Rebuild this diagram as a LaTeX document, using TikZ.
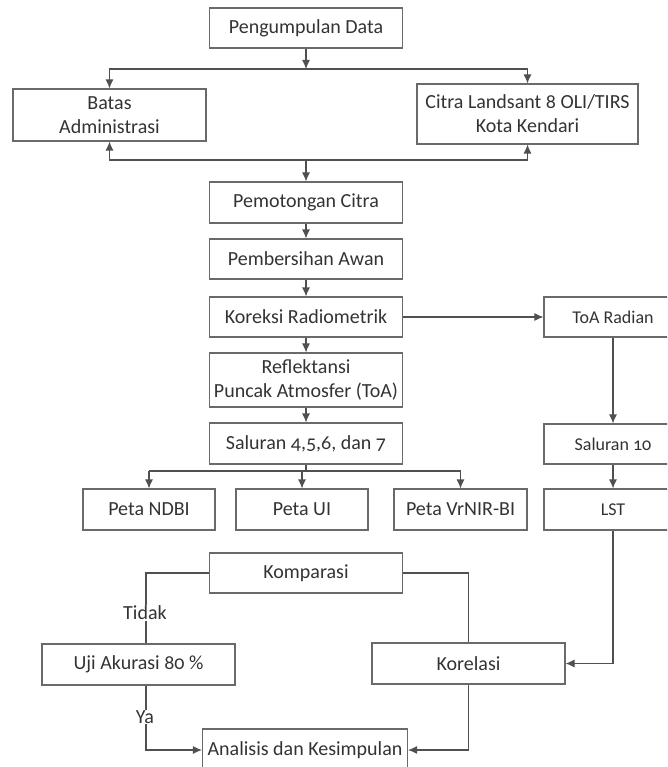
\documentclass[tikz,border=0pt]{standalone}
\usepackage{fontspec}
\setmainfont{Carlito}[Numbers=OldStyle]
\usepackage{xcolor}
\usetikzlibrary{arrows.meta}

\definecolor{boxgray}{HTML}{6A6A6A}
\definecolor{linegray}{HTML}{505050}
\definecolor{textgray}{HTML}{333333}

\begin{document}
\begin{tikzpicture}[x=1pt, y=-1pt, >={Latex[length=9pt,width=8pt]},
    box/.style={draw=boxgray, line width=1.1pt, text=textgray, align=center,
        inner sep=0pt, font=\fontsize{20}{24}\selectfont},
    sidebox/.style={box, font=\fontsize{18}{22}\selectfont},
    link/.style={draw=linegray, line width=1.1pt},
    lbl/.style={fill=white, text=textgray, inner sep=1pt, font=\fontsize{20}{24}\selectfont}]

    % Frame
    \useasboundingbox (0,0) rectangle (667,767);
    \clip (0,0) rectangle (667,767);

    % Input data
    \node[box, minimum width=193, minimum height=40] (data) at (306,28) {Pengumpulan Data};
    \node[box, minimum width=193, minimum height=52] (batas) at (109.5,115) {Batas\\Administrasi};
    \node[box, minimum width=221, minimum height=60] (citra) at (527.5,114) {Citra Landsant 8 OLI/TIRS\\Kota Kendari};

    \coordinate (split) at (306,69);
    \coordinate (merge) at (306,160);

    \draw[link, ->] (data) -- (split);
    \draw[link, ->] (split) -| (batas.north);
    \draw[link, ->] (split) -| (citra.north);
    \draw[link, ->] (merge) -| (batas.south);
    \draw[link, ->] (merge) -| (citra.south);

    % Pre-processing
    \node[box, minimum width=193, minimum height=41] (potong) at (306,202.5) {Pemotongan Citra};
    \node[box, minimum width=193, minimum height=40] (awan) at (306,259) {Pembersihan Awan};
    \node[box, minimum width=193, minimum height=40] (koreksi) at (306,317) {Koreksi Radiometrik};
    \node[box, minimum width=193, minimum height=54] (reflek) at (306,380) {Reflektansi\\Puncak Atmosfer (ToA)};
    \node[box, minimum width=193, minimum height=41] (saluran) at (306,443.5) {Saluran 4,5,6, dan 7};

    \draw[link, ->] (merge) -- (potong);
    \draw[link, ->] (potong) -- (awan);
    \draw[link, ->] (awan) -- (koreksi);
    \draw[link, ->] (koreksi) -- (reflek);
    \draw[link, ->] (reflek) -- (saluran);

    % Thermal branch
    \node[sidebox, minimum width=138, minimum height=40] (toarad) at (613,317) {ToA Radian};
    \node[sidebox, minimum width=138, minimum height=40] (sal10) at (613,444) {Saluran 10};
    \node[sidebox, minimum width=138, minimum height=41] (lst) at (613,509.5) {LST};

    \draw[link, ->] (koreksi) -- (toarad);
    \draw[link, ->] (toarad) -- (sal10);
    \draw[link, ->] (sal10) -- (lst);

    % Index maps
    \node[box, minimum width=132, minimum height=41] (ndbi) at (149,509.5) {Peta NDBI};
    \node[box, minimum width=132, minimum height=41] (ui) at (302,509.5) {Peta UI};
    \node[box, minimum width=133, minimum height=41] (vrnir) at (460.5,509.5) {Peta VrNIR-BI};

    \coordinate (branch) at (306,471);
    \draw[link] (saluran) -- (branch);
    \draw[link] (ndbi.north |- branch) -- (vrnir.north |- branch);
    \draw[link, ->] (ndbi.north |- branch) -- (ndbi.north);
    \draw[link, ->] (ui.north |- branch) -- (ui.north);
    \draw[link, ->] (vrnir.north |- branch) -- (vrnir.north);

    % Comparison and result
    \node[box, minimum width=193, minimum height=40] (komp) at (306,573) {Komparasi};
    \node[box, minimum width=193, minimum height=41] (uji) at (138.5,664.5) {Uji Akurasi 80 \%};
    \node[box, minimum width=193, minimum height=41] (korelasi) at (468.5,663.5) {Korelasi};
    \node[box, minimum width=205, minimum height=42] (hasil) at (305,750) {Analisis dan Kesimpulan};

    \coordinate (kiri) at (146,573);
    \draw[link] (komp.west) -- (kiri) -- (uji.north -| kiri);
    \draw[link] (komp.east) -| (korelasi.north);
    \draw[link, ->] (lst.south) |- (korelasi.east);
    \draw[link, ->] (uji.south -| kiri) |- (hasil.west);
    \draw[link, ->] (korelasi.south) |- (hasil.east);

    \node[lbl] (tidak) at (145,613) {Tidak};
    \node[lbl] (ya) at (145,717) {Ya};

\end{tikzpicture}
\end{document}
